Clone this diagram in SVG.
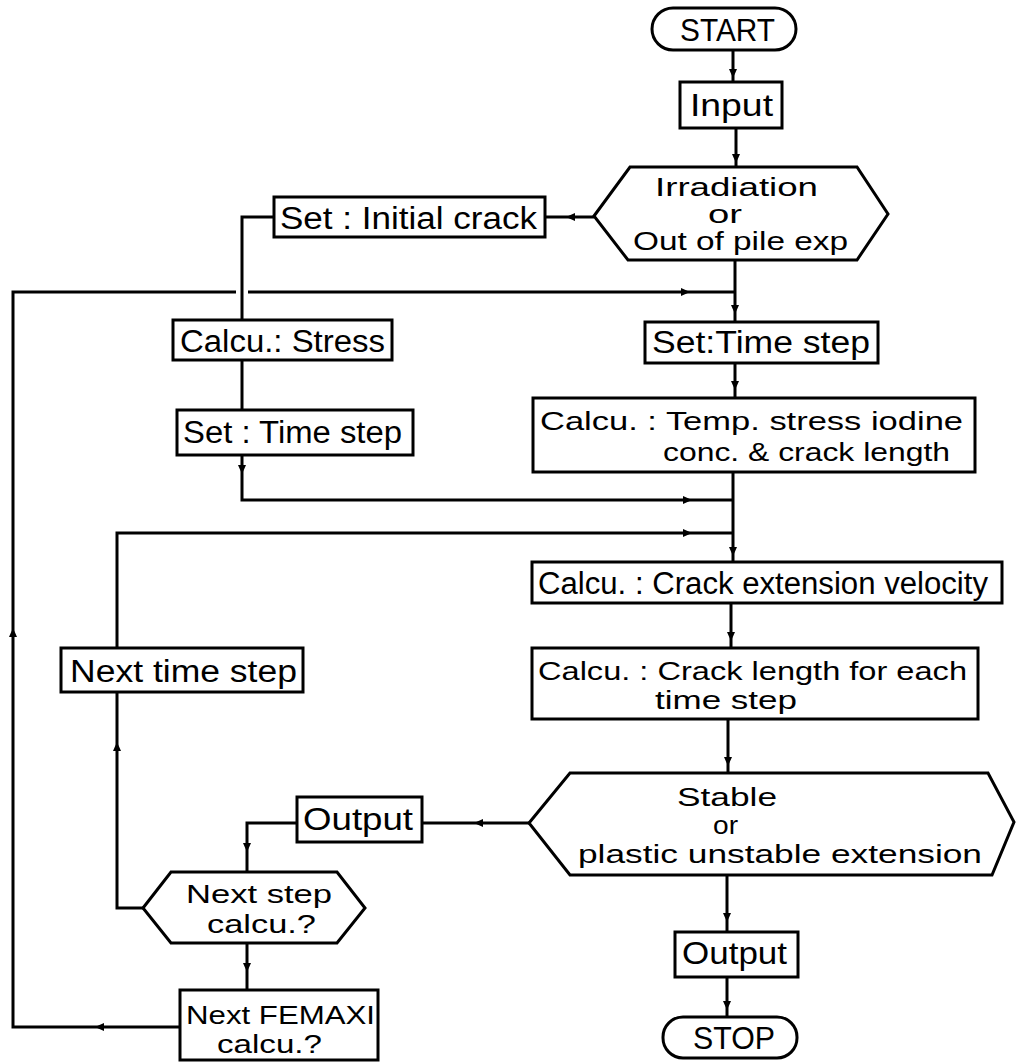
<svg xmlns="http://www.w3.org/2000/svg" xmlns:xlink="http://www.w3.org/1999/xlink" width="1016" height="1062" viewBox="0 0 1016 1062">
<style>
.n{fill:#fff;stroke:#000;stroke-width:3}
.t{font-family:"Liberation Sans",Arial,sans-serif;font-size:31px;fill:#000}
.m{font-size:25px}
.c{fill:none;stroke:#000;stroke-width:3}
.a{fill:#000}
</style>
<defs>
<path id="ah" d="M-9,-4 L0,0 L-9,4 Z"/>
</defs>
<rect width="1016" height="1062" fill="#fff"/>
<g id="connectors">
<path class="c" d="M733,50 V82"/>
<path class="c" d="M736,128 V167"/>
<path class="c" d="M594,217 H545"/>
<path class="c" d="M274,217 H242 V320"/>
<path class="c" d="M242,360 V410"/>
<path class="c" d="M242,455 V500 H733"/>
<path class="c" d="M735,260 V322"/>
<path class="c" d="M180,1027 H13 V292 H236 M248,292 H735"/>
<path class="c" d="M735,363 V398"/>
<path class="c" d="M733,472 V562"/>
<path class="c" d="M143,908 H117 V692 M117,648 V533 H733"/>
<path class="c" d="M731,603 V648"/>
<path class="c" d="M728,719 V773"/>
<path class="c" d="M529,823 H422"/>
<path class="c" d="M297,823 H247 V872"/>
<path class="c" d="M247,943 V990"/>
<path class="c" d="M727,875 V932"/>
<path class="c" d="M727,977 V1017"/>
<use class="a" xlink:href="#ah" transform="translate(733,78) rotate(90)"/>
<use class="a" xlink:href="#ah" transform="translate(736,163) rotate(90)"/>
<use class="a" xlink:href="#ah" transform="translate(566,217) rotate(180)"/>
<use class="a" xlink:href="#ah" transform="translate(242,474) rotate(90)"/>
<use class="a" xlink:href="#ah" transform="translate(692,500)"/>
<use class="a" xlink:href="#ah" transform="translate(735,314) rotate(90)"/>
<use class="a" xlink:href="#ah" transform="translate(95,1027) rotate(180)"/>
<use class="a" xlink:href="#ah" transform="translate(13,628) rotate(-90)"/>
<use class="a" xlink:href="#ah" transform="translate(690,292)"/>
<use class="a" xlink:href="#ah" transform="translate(735,390) rotate(90)"/>
<use class="a" xlink:href="#ah" transform="translate(733,556) rotate(90)"/>
<use class="a" xlink:href="#ah" transform="translate(117,742) rotate(-90)"/>
<use class="a" xlink:href="#ah" transform="translate(692,533)"/>
<use class="a" xlink:href="#ah" transform="translate(731,641) rotate(90)"/>
<use class="a" xlink:href="#ah" transform="translate(728,766) rotate(90)"/>
<use class="a" xlink:href="#ah" transform="translate(474,823) rotate(180)"/>
<use class="a" xlink:href="#ah" transform="translate(247,852) rotate(90)"/>
<use class="a" xlink:href="#ah" transform="translate(247,972) rotate(90)"/>
<use class="a" xlink:href="#ah" transform="translate(727,922) rotate(90)"/>
<use class="a" xlink:href="#ah" transform="translate(727,1010) rotate(90)"/>
</g>
<g id="start">
<rect class="n" x="652" y="8" width="144" height="42" rx="21"/>
<text class="t" x="680" y="41" textLength="95" lengthAdjust="spacingAndGlyphs">START</text>
</g>
<g id="input">
<rect class="n" x="680" y="82" width="102" height="46"/>
<text class="t" x="690" y="116" textLength="83" lengthAdjust="spacingAndGlyphs">Input</text>
</g>
<g id="irradiation">
<path class="n" d="M594,216 L630,167 L857,167 L888,214 L857,260 L628,260 Z"/>
<text class="t m" x="655" y="196" textLength="163" lengthAdjust="spacingAndGlyphs">Irradiation</text>
<text class="t m" x="708" y="223" textLength="34" lengthAdjust="spacingAndGlyphs">or</text>
<text class="t m" x="633" y="250" textLength="215" lengthAdjust="spacingAndGlyphs">Out of pile exp</text>
</g>
<g id="set-initial-crack">
<rect class="n" x="274" y="197" width="271" height="40"/>
<text class="t" x="280" y="229" textLength="257" lengthAdjust="spacingAndGlyphs">Set : Initial crack</text>
</g>
<g id="calcu-stress">
<rect class="n" x="173" y="320" width="219" height="40"/>
<text class="t" x="180" y="352" textLength="205" lengthAdjust="spacingAndGlyphs">Calcu.: Stress</text>
</g>
<g id="set-time-step-left">
<rect class="n" x="177" y="410" width="236" height="45"/>
<text class="t" x="183" y="443" textLength="219" lengthAdjust="spacingAndGlyphs">Set : Time step</text>
</g>
<g id="set-time-step-right">
<rect class="n" x="645" y="322" width="233" height="41"/>
<text class="t" x="652" y="353" textLength="218" lengthAdjust="spacingAndGlyphs">Set:Time step</text>
</g>
<g id="calcu-temp">
<rect class="n" x="533" y="398" width="442" height="74"/>
<text class="t m" x="540" y="430" textLength="423" lengthAdjust="spacingAndGlyphs">Calcu. : Temp. stress  iodine</text>
<text class="t m" x="663" y="461" textLength="287" lengthAdjust="spacingAndGlyphs">conc. &amp; crack length</text>
</g>
<g id="calcu-crack-ext">
<rect class="n" x="532" y="562" width="470" height="41"/>
<text class="t" x="538" y="594" textLength="450" lengthAdjust="spacingAndGlyphs">Calcu. : Crack extension  velocity</text>
</g>
<g id="calcu-crack-length">
<rect class="n" x="532" y="648" width="446" height="71"/>
<text class="t m" x="538" y="680" textLength="429" lengthAdjust="spacingAndGlyphs">Calcu. : Crack length for each</text>
<text class="t m" x="655" y="709" textLength="142" lengthAdjust="spacingAndGlyphs">time step</text>
</g>
<g id="stable">
<path class="n" d="M529,823 L570,773 L988,773 L1014,822 L992,875 L570,875 Z"/>
<text class="t m" x="677" y="806" textLength="100" lengthAdjust="spacingAndGlyphs">Stable</text>
<text class="t m" x="713" y="834" textLength="25" lengthAdjust="spacingAndGlyphs">or</text>
<text class="t m" x="578" y="863" textLength="404" lengthAdjust="spacingAndGlyphs">plastic unstable extension</text>
</g>
<g id="output-right">
<rect class="n" x="675" y="932" width="123" height="45"/>
<text class="t" x="682" y="964" textLength="105" lengthAdjust="spacingAndGlyphs">Output</text>
</g>
<g id="stop">
<rect class="n" x="663" y="1017" width="134" height="41" rx="20"/>
<text class="t" x="693" y="1049" textLength="82" lengthAdjust="spacingAndGlyphs">STOP</text>
</g>
<g id="output-left">
<rect class="n" x="297" y="797" width="125" height="45"/>
<text class="t" x="303" y="830" textLength="110" lengthAdjust="spacingAndGlyphs">Output</text>
</g>
<g id="next-time-step">
<rect class="n" x="61" y="648" width="242" height="44"/>
<text class="t" x="70" y="682" textLength="227" lengthAdjust="spacingAndGlyphs">Next  time step</text>
</g>
<g id="next-step-calcu">
<path class="n" d="M143,908 L171,872 L337,872 L365,908 L337,943 L171,943 Z"/>
<text class="t m" x="186" y="903" textLength="146" lengthAdjust="spacingAndGlyphs">Next step</text>
<text class="t m" x="207" y="933" textLength="109" lengthAdjust="spacingAndGlyphs">calcu.?</text>
</g>
<g id="next-femaxi">
<rect class="n" x="180" y="990" width="198" height="70"/>
<text class="t m" x="186" y="1024" textLength="189" lengthAdjust="spacingAndGlyphs">Next FEMAXI</text>
<text class="t m" x="217" y="1053" textLength="105" lengthAdjust="spacingAndGlyphs">calcu.?</text>
</g>
</svg>
